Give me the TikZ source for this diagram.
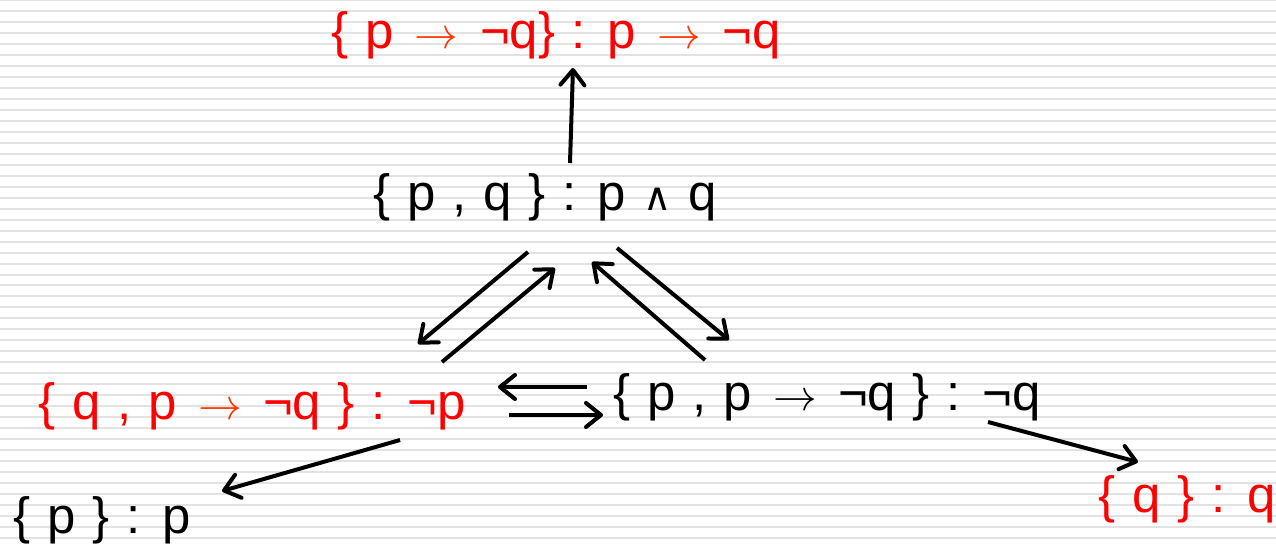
\documentclass[tikz,border=0pt]{standalone}
\usepackage{fontspec}
\setmainfont{Liberation Sans}
\newfontfamily\simbolos{DejaVu Sans}
\usetikzlibrary{arrows.meta}
\definecolor{rojo}{RGB}{255,0,0}
\definecolor{naranja}{RGB}{255,51,0}
\definecolor{gris}{RGB}{226,226,226}
\newcommand{\letraetiqueta}{\fontsize{29}{35}\selectfont\setlength{\spaceskip}{0.33em}}
\tikzset{
    etiqueta/.style={inner sep=0pt, font=\letraetiqueta},
    roja/.style={etiqueta, text=rojo},
    flecha/.style={line width=0.08cm, -{Straight Barb[length=3mm,width=4.8mm,round]}},
}
\newcommand{\impl}{\hspace{0.09em}{\fontsize{34}{35}\selectfont$\rightarrow$}\hspace{0.09em}}
\newcommand{\implr}{{\color{naranja}\impl}}
\newcommand{\conj}{{\simbolos\fontsize{22}{24}\selectfont ∧}}

\begin{document}
\begin{tikzpicture}[x=0.02cm, y=-0.02cm]
\useasboundingbox (0,0) rectangle (1276,544);
\fill[white] (0,0) rectangle (1276,544);
\foreach \k in {0,...,49} {
    \fill[gris] (0,10.96*\k-0.5) rectangle (1276,10.96*\k+1.5);
}
\node[roja] (tope) at (556,35) {\{ p \implr{} ¬q\} : p \implr{} ¬q};
\node[etiqueta] (medio) at (545,197) {\{ p , q \} : p \conj{} q};
\node[roja] (izq) at (252,406) {\{ q , p \implr{} ¬q \} : ¬p};
\node[etiqueta] (der) at (827,397) {\{ p , p \impl{} ¬q \} : ¬q};
\node[etiqueta] (solop) at (102,520) {\{ p \} : p};
\node[roja] (soloq) at (1187,499) {\{ q \} : q};
\draw[flecha] ([shift={(25,-34)}]medio.center) -- ([shift={(17,33)}]tope.center);
\draw[flecha] ([shift={(-17,55)}]medio.center) -- ([shift={(166,-62)}]izq.center);
\draw[flecha] ([shift={(190,-44)}]izq.center) -- ([shift={(10,71)}]medio.center);
\draw[flecha] ([shift={(72,51)}]medio.center) -- ([shift={(-98,-57)}]der.center);
\draw[flecha] ([shift={(-122,-37)}]der.center) -- ([shift={(47,65)}]medio.center);
\draw[flecha] ([shift={(-240,-10)}]der.center) -- ([shift={(246,-19)}]izq.center);
\draw[flecha] ([shift={(257,9)}]izq.center) -- ([shift={(-224,18)}]der.center);
\draw[flecha] ([shift={(148,34)}]izq.center) -- ([shift={(120,-29)}]solop.center);
\draw[flecha] ([shift={(161,25)}]der.center) -- ([shift={(-49,-37)}]soloq.center);
\end{tikzpicture}
\end{document}
